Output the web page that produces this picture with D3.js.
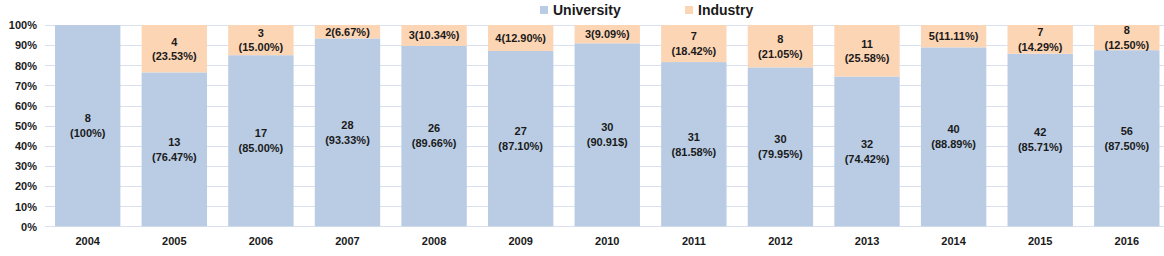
<!DOCTYPE html>
<html>
<head>
<meta charset="utf-8">
<script src="https://cdn.jsdelivr.net/npm/d3@7"></script>
<style>
  body { margin: 0; background: #fff; }
  svg text { font-family: "Liberation Sans", Arial, sans-serif; font-weight: bold; fill: #1a1a1a; }
</style>
</head>
<body>
<svg id="viz"></svg>
<script>
var width = 1164;
var height = 256;

var years = ["2004", "2005", "2006", "2007", "2008", "2009", "2010", "2011", "2012", "2013", "2014", "2015", "2016"];
var university = [8, 13, 17, 28, 26, 27, 30, 31, 30, 32, 40, 42, 56];
var industry = [0, 4, 3, 2, 3, 4, 3, 7, 8, 11, 5, 7, 8];
var uniPctLabels = ["100%", "76.47%", "85.00%", "93.33%", "89.66%", "87.10%", "90.91$", "81.58%", "79.95%", "74.42%", "88.89%", "85.71%", "87.50%"];
var indPctLabels = ["", "23.53%", "15.00%", "6.67%", "10.34%", "12.90%", "9.09%", "18.42%", "21.05%", "25.58%", "11.11%", "14.29%", "12.50%"];
// industry labels that sit on one line in the original
var indOneLine = ["2007", "2008", "2009", "2010", "2014"];
var yTicks = [0, 0.1, 0.2, 0.3, 0.4, 0.5, 0.6, 0.7, 0.8, 0.9, 1];
var seriesNames = ["University", "Industry"];
var colors = ["#b9cce4", "#fcd5b5"];

var svg = d3.select("#viz").attr("width", width).attr("height", height);

var x = d3.scaleBand().domain(years).range([44.2, 1170.3]).paddingInner(0.245).paddingOuter(0.125);
var y = d3.scaleLinear().domain([0, 1]).range([226.3, 25]);

// gridlines
svg.append("g").selectAll("line")
    .data(yTicks)
    .enter()
    .append("line")
    .attr("x1", 45)
    .attr("x2", 1164)
    .attr("y1", function(d) { return Math.round(y(d)) + 0.5; })
    .attr("y2", function(d) { return Math.round(y(d)) + 0.5; })
    .attr("stroke", "#d9e1ee")
    .attr("stroke-width", 1);

var yAxis = svg.append("g")
    .attr("transform", "translate(37,0)")
    .call(d3.axisLeft(y).tickValues(yTicks).tickSize(0).tickPadding(0).tickFormat(d3.format(".0%")));
yAxis.select(".domain").remove();
yAxis.selectAll("text").style("font-size", "11px").attr("dy", "0.35em");

var rows = years.map(function(yr, i) {
    var total = university[i] + industry[i];
    return { year: yr, u: university[i] / total, ind: industry[i] / total, i: i };
});

// university bars
svg.append("g").selectAll("rect")
    .data(rows)
    .enter()
    .append("rect")
    .attr("x", function(d) { return x(d.year); })
    .attr("width", x.bandwidth())
    .attr("y", function(d) { return y(d.u); })
    .attr("height", function(d) { return y(0) - y(d.u); })
    .attr("fill", colors[0]);

// industry bars
svg.append("g").selectAll("rect")
    .data(rows.filter(function(d) { return d.ind > 0; }))
    .enter()
    .append("rect")
    .attr("x", function(d) { return x(d.year); })
    .attr("width", x.bandwidth())
    .attr("y", function(d) { return y(1); })
    .attr("height", function(d) { return y(d.u) - y(1); })
    .attr("fill", colors[1]);

// university labels
var uLab = svg.append("g").selectAll("text")
    .data(rows)
    .enter()
    .append("text")
    .attr("text-anchor", "middle")
    .style("font-size", "11px")
    .attr("transform", function(d) {
        return "translate(" + (x(d.year) + x.bandwidth() / 2) + "," + ((y(0) + y(d.u)) / 2) + ")";
    });
uLab.append("tspan").attr("x", 0).attr("y", -7.5).attr("dy", "0.35em").text(function(d) { return university[d.i]; });
uLab.append("tspan").attr("x", 0).attr("y", 7.5).attr("dy", "0.35em").text(function(d) { return "(" + uniPctLabels[d.i] + ")"; });

// industry labels
var iLab = svg.append("g").selectAll("text")
    .data(rows.filter(function(d) { return d.ind > 0; }))
    .enter()
    .append("text")
    .attr("text-anchor", "middle")
    .style("font-size", "11px")
    .attr("transform", function(d) {
        return "translate(" + (x(d.year) + x.bandwidth() / 2) + "," + ((y(1) + y(d.u)) / 2) + ")";
    });
iLab.each(function(d) {
    var t = d3.select(this);
    if (indOneLine.indexOf(d.year) >= 0) {
        t.append("tspan").attr("x", 0).attr("y", 0).attr("dy", "0.35em").text(industry[d.i] + "(" + indPctLabels[d.i] + ")");
    } else {
        t.append("tspan").attr("x", 0).attr("y", -7).attr("dy", "0.35em").text(industry[d.i]);
        t.append("tspan").attr("x", 0).attr("y", 7.5).attr("dy", "0.35em").text("(" + indPctLabels[d.i] + ")");
    }
});

// x axis labels
var xAxis = svg.append("g")
    .attr("transform", "translate(0,236)")
    .call(d3.axisBottom(x).tickSize(0).tickPadding(0));
xAxis.select(".domain").remove();
xAxis.selectAll("text").style("font-size", "11px").attr("dy", "0.35em").attr("y", 5);

// legend
var legendX = [540, 685];
var legend = svg.append("g").selectAll("g")
    .data(seriesNames)
    .enter()
    .append("g")
    .attr("transform", function(d, i) { return "translate(" + legendX[i] + ",6)"; });
legend.append("rect").attr("width", 8).attr("height", 8).attr("fill", function(d, i) { return colors[i]; });
legend.append("text")
    .attr("x", 13)
    .attr("y", 4)
    .attr("dy", "0.35em")
    .style("font-size", "14px")
    .text(function(d) { return d; });
</script>
</body>
</html>
